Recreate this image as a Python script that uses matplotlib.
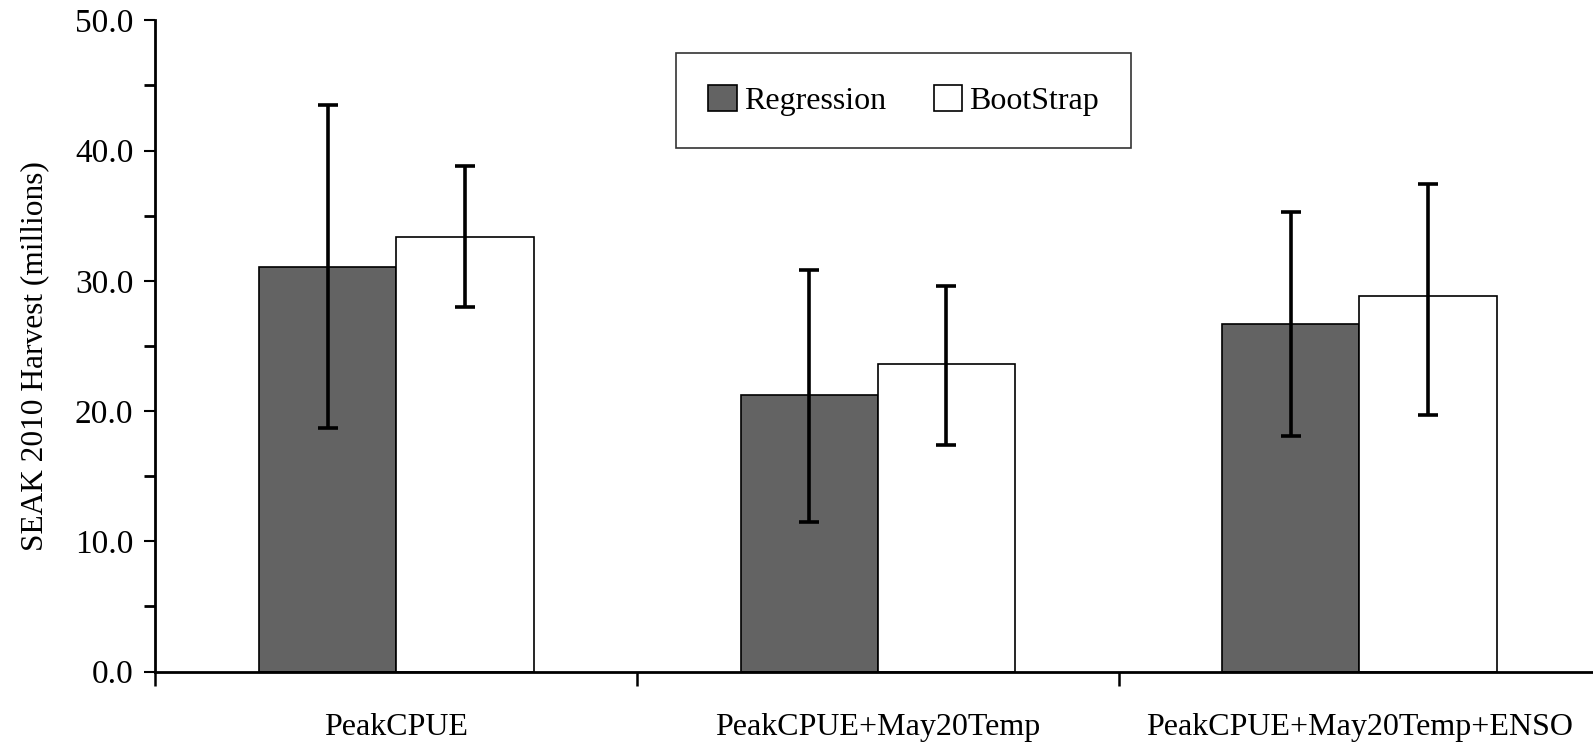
import matplotlib.pyplot as plt
import numpy as np

plt.rcParams['font.family'] = 'serif'
plt.rcParams['font.serif'] = ['Liberation Serif', 'DejaVu Serif']

# data
models = ['PeakCPUE', 'PeakCPUE+May20Temp', 'PeakCPUE+May20Temp+ENSO']
series = ['Regression', 'BootStrap']
regression = [31.1, 21.2, 26.7]
regression_low = [18.7, 11.5, 18.1]
regression_high = [43.5, 30.8, 35.3]
bootstrap = [33.4, 23.6, 28.8]
bootstrap_low = [28.0, 17.4, 19.7]
bootstrap_high = [38.8, 29.6, 37.4]

fig = plt.figure(figsize=(15.93, 7.44), dpi=100)
ax = fig.add_axes([0.0976, 0.0973, 0.9024, 0.8754])

x = np.arange(len(models))
w = 0.285

def yerr(vals, low, high):
    vals = np.array(vals)
    return [vals - np.array(low), np.array(high) - vals]

err_kw = dict(ecolor='black', elinewidth=2.6, capsize=7.2, capthick=2.6)
ax.bar(x - w / 2, regression, w, color='#636363', edgecolor='black', linewidth=1.2,
       label=series[0], yerr=yerr(regression, regression_low, regression_high),
       error_kw=err_kw, zorder=2)
ax.bar(x + w / 2, bootstrap, w, color='white', edgecolor='black', linewidth=1.2,
       label=series[1], yerr=yerr(bootstrap, bootstrap_low, bootstrap_high),
       error_kw=err_kw, zorder=2)

ax.set_ylim(0, 50)
ax.set_xlim(-0.5, 2.485)
ax.set_yticks(np.arange(0, 51, 10))
ax.set_yticklabels([f'{v:.1f}' for v in np.arange(0, 51, 10)], fontsize=24)
ax.set_yticks(np.arange(5, 50, 10), minor=True)
ax.tick_params(axis='y', which='major', direction='out', length=8, width=1.5, pad=8)
ax.tick_params(axis='y', which='minor', direction='out', length=8, width=2)

# category boundaries as ticks, labels centred under each group
ax.set_xticks([-0.5, 0.5, 1.5])
ax.set_xticklabels([])
ax.tick_params(axis='x', which='major', direction='out', length=10, width=1.8)
ax.set_xticks(x, minor=True)
ax.set_xticklabels(models, minor=True, fontsize=23)
ax.tick_params(axis='x', which='minor', length=0, pad=30)

for side in ['top', 'right']:
    ax.spines[side].set_visible(False)
for side in ['left', 'bottom']:
    ax.spines[side].set_linewidth(2)

ax.set_ylabel('SEAK 2010 Harvest (millions)', fontsize=22.6)
ax.yaxis.set_label_coords(-0.074, 0.484)

leg = ax.legend(loc='upper left', bbox_to_anchor=(0.362, 0.950), borderaxespad=0,
                ncol=2, fontsize=23, frameon=True, fancybox=False, edgecolor='black',
                handlelength=0.9, handleheight=0.9, handletextpad=0.22,
                columnspacing=1.5, borderpad=1.0)
leg.get_frame().set_linewidth(1.2)

fig.savefig('out.png', dpi=100)
